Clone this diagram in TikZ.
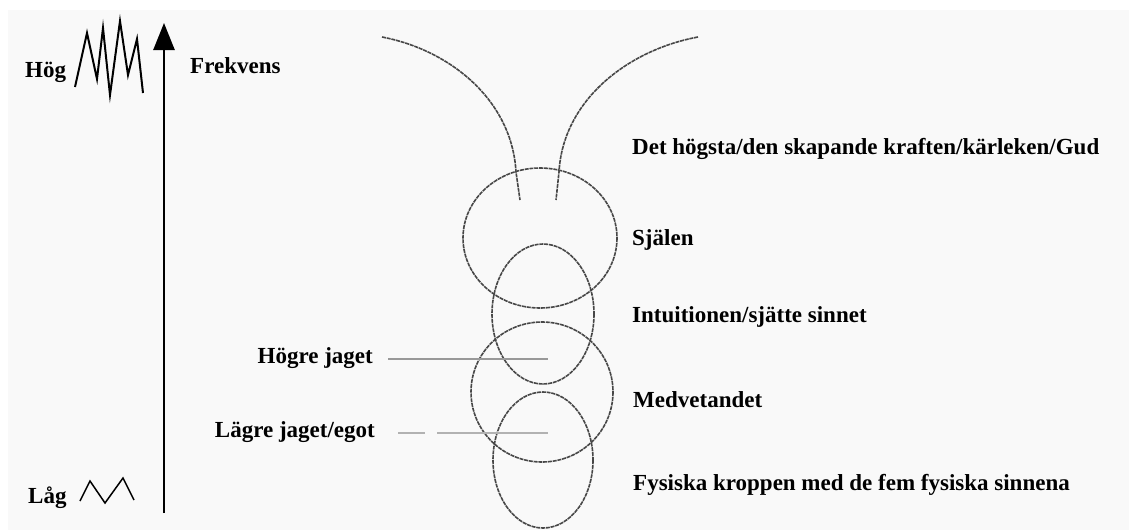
\documentclass[tikz,border=0pt]{standalone}
\usepackage{fontspec}
\setmainfont{Liberation Serif}
\usepackage{tikz}
\usetikzlibrary{arrows.meta}
\definecolor{hintergrund}{RGB}{249,249,249}

\begin{document}
\begin{tikzpicture}[x=1pt, y=-1pt,
        every node/.style={font=\fontsize{23}{27}\selectfont\bfseries, inner sep=0pt},
        links/.style={anchor=base east},
        rechts/.style={anchor=base west},
        kreis/.style={draw=black!72, line width=1.6pt, dash pattern=on 4pt off 0.8pt},
        zacke/.style={draw=black, line width=2pt, line join=miter},
        leitung/.style={draw=black!40, line width=2.2pt},
        achse/.style={draw=black, line width=2.6pt, -{Triangle[length=27pt, width=21pt]}}
    ]
        \useasboundingbox (0,0) rectangle (1129,530);
        \fill[hintergrund] (8,10) rectangle (1129,530);

        % Frequenzachse
        \coordinate (fuss)   at (164,513);
        \coordinate (spitze) at (164,23);
        \draw[achse] (fuss) -- (spitze);
        \node[rechts] (hoeg) at (25,77)  {Hög};
        \node[rechts] (frek) at (190,73) {Frekvens};
        \node[rechts] (laag) at (28,503) {Låg};
        \draw[zacke] (75,87) -- (87,33) -- (97,79) -- (103,28) -- (110,95)
                     -- (120,21) -- (128,75) -- (137,39) -- (143,93);
        \draw[zacke, line width=1.5pt] (80,501) -- (90,481) -- (105,503) -- (123,478) -- (134,500);

        % Kreise
        \draw[kreis] (382,37) .. controls (450,50) and (512,100) .. (516,172) -- (520,200);
        \draw[kreis] (698,37) .. controls (628,50) and (563,100) .. (559,172) -- (556,200);
        \draw[kreis] (540,238) ellipse [x radius=77, y radius=70];
        \draw[kreis] (543,314) ellipse [x radius=51, y radius=70];
        \draw[kreis] (542,392) ellipse [x radius=71, y radius=70];
        \draw[kreis] (543,460) ellipse [x radius=50, y radius=68];

        % Beschriftungen rechts
        \node[rechts] (gud)   at (632,154) {Det högsta/den skapande kraften/kärleken/Gud};
        \node[rechts] (sjael) at (632,245) {Själen};
        \node[rechts] (intu)  at (632,322) {Intuitionen/sjätte sinnet};
        \node[rechts] (medv)  at (633,407) {Medvetandet};
        \node[rechts] (fysi)  at (633,490) {Fysiska kroppen med de fem fysiska sinnena};

        % Beschriftungen links
        \node[links] (hj) at (373,363) {Högre jaget};
        \node[links] (lj) at (375,437) {Lägre jaget/egot};
        \coordinate (hjende) at (548,359);
        \coordinate (ljende) at (548,433);
        \draw[leitung, shorten <=15pt] (hjende -| hj.east) -- (hjende);
        \draw[leitung, draw=black!30, line width=1.6pt, shorten <=23pt,
              dash pattern=on 27pt off 12pt on 200pt] (ljende -| lj.east) -- (ljende);
    \end{tikzpicture}
\end{document}
